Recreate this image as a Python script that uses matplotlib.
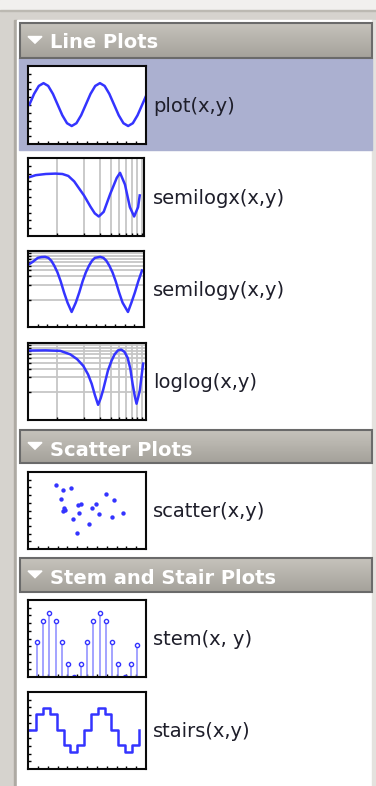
import numpy as np
import matplotlib.pyplot as plt
from matplotlib.patches import Rectangle, Polygon
from matplotlib.colors import LinearSegmentedColormap

W, H = 376, 786

plot_x = [0, 1, 2, 3, 4, 5, 6, 7, 8, 9, 10, 11, 12, 13, 14, 15, 16, 17, 18, 19, 20, 21, 22, 23, 24, 25]
plot_y = [0, 0.5, 0.87, 1, 0.87, 0.5, 0, -0.5, -0.87, -1, -0.87, -0.5, 0,
          0.5, 0.87, 1, 0.87, 0.5, 0, -0.5, -0.87, -1, -0.87, -0.5, 0, 0.5]

semilogx_x = [0.47, 0.57, 0.74, 0.95, 1.14, 1.33, 1.55, 1.76, 2.0, 2.37, 2.65,
              2.94, 3.34, 3.96, 4.69, 5.11, 5.81, 6.60, 7.37, 8.17, 8.53]
semilogx_y = [0.75, 0.78, 0.795, 0.80, 0.795, 0.77, 0.70, 0.61, 0.52, 0.375, 0.29,
              0.25, 0.31, 0.54, 0.745, 0.81, 0.66, 0.37, 0.25, 0.37, 0.52]

semilogy_x = [0, 5, 10, 13.7, 17.4, 20.7, 23.7, 26.7, 30, 33.2, 36.7, 40.2, 44.4,
              48.6, 52.1, 55.6, 58.8, 62.1, 65.1, 68.1, 73.4, 76.7, 79.7, 82.7, 86,
              89.2, 92.7, 96.2, 101.7, 105.2, 108.7, 112.2, 116]
semilogy_y = [0.518, 0.603, 0.724, 0.752, 0.759, 0.724, 0.631, 0.501, 0.363, 0.240,
              0.140, 0.087, 0.056, 0.087, 0.140, 0.240, 0.363, 0.501, 0.631, 0.724,
              0.759, 0.724, 0.631, 0.501, 0.363, 0.240, 0.140, 0.087, 0.056, 0.087,
              0.140, 0.240, 0.398]

loglog_x = [0.47, 0.74, 1.08, 1.40, 1.67, 1.96, 2.22, 2.44, 2.65, 2.88, 3.09, 3.28,
            3.72, 4.09, 4.42, 4.83, 5.25, 5.71, 6.20, 6.65, 7.06, 7.47, 7.82, 8.17,
            8.53, 8.93, 9.28]
loglog_y = [0.701, 0.708, 0.692, 0.586, 0.468, 0.342, 0.229, 0.147, 0.087, 0.055,
            0.076, 0.110, 0.275, 0.437, 0.586, 0.708, 0.735, 0.661, 0.501, 0.302,
            0.147, 0.083, 0.058, 0.079, 0.110, 0.219, 0.380]

scatter_x = [28, 36, 44, 34, 37, 36, 38, 51, 54, 52, 46, 62, 50, 65, 69, 72, 79, 87, 85, 97]
scatter_y = [66, 61, 63, 52, 43, 40, 41, 46, 47, 37, 31, 26, 17, 43, 47, 36, 57, 51, 33, 37]

stem_x = [0, 1, 2, 3, 4, 5, 6, 7, 8, 9, 10, 11, 12, 13, 14, 15, 16]
stem_y = [1.08, 1.75, 2.0, 1.75, 1.08, 0.39, 0, 0.39, 1.08, 1.75, 2.0, 1.75, 1.08, 0.39, 0, 0.39, 1.0]

stairs_x = [0, 1, 2, 3, 4, 5, 6, 7, 8, 9, 10, 11, 12, 13, 14, 15, 16]
stairs_y = [0, 0.72, 1, 0.72, 0, -0.66, -1, -0.66, 0, 0.72, 1, 0.72, 0, -0.66, -1, -0.66, 0]

headers = ["Line Plots", "Scatter Plots", "Stem and Stair Plots"]
labels = ["plot(x,y)", "semilogx(x,y)", "semilogy(x,y)", "loglog(x,y)",
          "scatter(x,y)", "stem(x, y)", "stairs(x,y)"]

BLUE = '#3434ff'

fig = plt.figure(figsize=(W / 100, H / 100), dpi=100)
fig.patch.set_facecolor('#d6d3ce')

bg = fig.add_axes([0, 0, 1, 1])
bg.set_xlim(0, W)
bg.set_ylim(H, 0)
bg.axis('off')

# window chrome
bg.add_patch(Rectangle((0, 0), W, 9.5, color='#f1f0ee', zorder=0))
bg.add_patch(Rectangle((0, 9.5), W, 1.5, color='#bcb9b2', zorder=0))
bg.add_patch(Rectangle((14, 20), 3, H - 20, color='#aeaaa3', zorder=0))
bg.add_patch(Rectangle((17, 20), 355, H - 20, color='white', zorder=0))
bg.add_patch(Rectangle((372, 20), 4, H - 20, color='#e4e2de', zorder=0))

# selected row
bg.add_patch(Rectangle((19, 58), 353, 92, color='#abb0d0', zorder=1))

hdr_cmap = LinearSegmentedColormap.from_list('hdr', ['#c6c3bc', '#a5a29b'])
grad = np.linspace(0, 1, 30).reshape(-1, 1)


def header(top, bottom, title):
    bg.imshow(grad, cmap=hdr_cmap, extent=(19, 372, bottom, top), aspect='auto',
              zorder=2, interpolation='bilinear')
    bg.add_patch(Rectangle((19.5, top + 0.5), 352, bottom - top - 1, fill=False,
                           ec='#6a6a6a', lw=1.5, zorder=3))
    cy = (top + bottom) / 2
    bg.add_patch(Polygon([(28, cy - 3.5), (42, cy - 3.5), (35, cy + 3.2)],
                         closed=True, color='white', zorder=4))
    bg.text(50, top + 26.5, title, color='white', fontsize=14, fontweight='bold',
            va='baseline', ha='left', zorder=4)


header(22, 58, headers[0])
header(429, 463, headers[1])
header(557, 592, headers[2])
bg.set_xlim(0, W)
bg.set_ylim(H, 0)


def thumb(x0, y0, x1, y1, label):
    ax = fig.add_axes([(x0 + 1) / W, 1 - (y1 - 1) / H, (x1 - x0 - 2) / W, (y1 - y0 - 2) / H])
    ax.set_facecolor('white')
    for s in ax.spines.values():
        s.set_linewidth(1.5)
        s.set_color('#0a0a0a')
    ax.tick_params(which='both', direction='in', length=2.5, width=1.0, color='black',
                   labelleft=False, labelbottom=False, top=False, right=False)
    ax.set_axisbelow(True)
    bg.text(153, (y0 + y1) / 2 + 1, label, fontsize=14, color='#1e1e2a',
            va='center', ha='left', zorder=4)
    return ax


def lin_ticks(ax, nx=12, ny=10):
    x0, x1 = ax.get_xlim()
    y0, y1 = ax.get_ylim()
    if nx:
        ax.set_xticks(np.linspace(x0, x1, nx + 1)[1:-1])
    if ny:
        ax.set_yticks(np.linspace(y0, y1, ny + 1)[1:-1])


grid_kw = dict(color='#c6c6c6', lw=1.3)
log_ticks = [1, 2, 3, 4, 5, 6, 7, 8, 9]
log_yticks = [0.1, 0.2, 0.3, 0.4, 0.5, 0.6, 0.7, 0.8, 0.9]
LW = 1.8

# plot
ax = thumb(27, 65, 147, 145, labels[0])
ax.plot(plot_x, plot_y, color=BLUE, lw=LW)
ax.set_xlim(-0.3, 24.8)
ax.set_ylim(-1.84, 1.80)
lin_ticks(ax)

# semilogx
ax = thumb(27, 157, 145, 237, labels[1])
ax.semilogx(semilogx_x, semilogx_y, color=BLUE, lw=LW)
ax.set_xlim(0.466, 9.53)
ax.set_ylim(0, 1)
ax.set_xticks(log_ticks)
ax.set_xticks([], minor=True)
lin_ticks(ax, nx=0)
ax.grid(True, axis='x', **grid_kw)

# semilogy
ax = thumb(27, 250, 145, 328, labels[2])
ax.semilogy(semilogy_x, semilogy_y, color=BLUE, lw=LW)
ax.set_xlim(0, 118)
ax.set_ylim(0.0275, 1.0)
ax.set_yticks(log_yticks)
ax.set_yticks([], minor=True)
lin_ticks(ax, ny=0)
ax.grid(True, axis='y', **grid_kw)

# loglog
ax = thumb(27, 342, 147, 421, labels[3])
ax.loglog(loglog_x, loglog_y, color=BLUE, lw=LW)
ax.set_xlim(0.466, 10.0)
ax.set_ylim(0.027, 1.0)
ax.set_xticks(log_ticks)
ax.set_xticks([], minor=True)
ax.set_yticks(log_yticks)
ax.set_yticks([], minor=True)
ax.grid(True, which='major', **grid_kw)

# scatter
ax = thumb(27, 471, 147, 550, labels[4])
ax.scatter(scatter_x, scatter_y, s=10, color=BLUE, marker='o', linewidths=0)
ax.set_xlim(0, 120)
ax.set_ylim(0, 80)
lin_ticks(ax)

# stem
ax = thumb(27, 599, 147, 678, labels[5])
ml, sl, bl = ax.stem(stem_x, stem_y, basefmt=' ')
sl.set_color('#8a8aff')
sl.set_linewidth(1.1)
ml.set_markerfacecolor('white')
ml.set_markeredgecolor(BLUE)
ml.set_markersize(3.0)
ml.set_markeredgewidth(1.0)
ax.set_xlim(-1.4, 17.4)
ax.set_ylim(0, 2.4)
lin_ticks(ax)

# stairs
ax = thumb(27, 691, 147, 770, labels[6])
ax.step(stairs_x, stairs_y, where='post', color=BLUE, lw=LW)
ax.set_xlim(-0.19, 17.05)
ax.set_ylim(-1.74, 1.70)
lin_ticks(ax)

fig.savefig('out.png', dpi=100, facecolor=fig.get_facecolor())
